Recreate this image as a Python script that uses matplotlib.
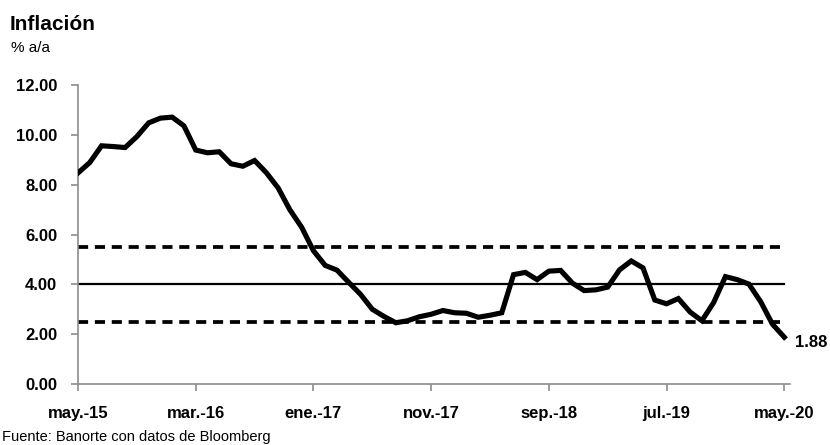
import numpy as np
import matplotlib.pyplot as plt

plt.rcParams['font.family'] = ['Liberation Sans Narrow', 'Liberation Sans', 'DejaVu Sans']

# Inflación anual (% a/a), mensual de may-15 a may-20
inflacion = [8.47, 8.89, 9.56, 9.53, 9.49, 9.93, 10.48, 10.67,
             10.71, 10.36, 9.39, 9.28, 9.32, 8.84, 8.74, 8.97, 8.48, 7.87, 6.99, 6.29,
             5.35, 4.76, 4.57, 4.08, 3.60, 3.00, 2.71, 2.46, 2.54, 2.70, 2.80, 2.95,
             2.86, 2.84, 2.68, 2.76, 2.86, 4.39, 4.48, 4.19, 4.53, 4.56, 4.05, 3.75,
             3.78, 3.89, 4.58, 4.94, 4.66, 3.37, 3.22, 3.43, 2.89, 2.54, 3.27, 4.31,
             4.19, 4.01, 3.30, 2.40, 1.88]
meta = 4.0
banda_sup = 5.5
banda_inf = 2.5
tick_labels = ['may.-15', 'mar.-16', 'ene.-17', 'nov.-17', 'sep.-18', 'jul.-19', 'may.-20']

x = np.arange(len(inflacion))

fig = plt.figure(figsize=(8.3, 4.45), dpi=100)
ax = fig.add_axes([0.094, 0.137, 0.858, 0.672])

ax.plot(x, [meta] * len(x), color='black', lw=1.6, zorder=2)
ax.plot(x, [banda_sup] * len(x), color='black', lw=2.7, ls=(0, (2.7, 1.8)), zorder=2)
ax.plot(x, [banda_inf] * len(x), color='black', lw=2.7, ls=(0, (2.7, 1.8)), zorder=2)
ax.plot(x, inflacion, color='black', lw=3.7, solid_joinstyle='miter', zorder=3)

ax.text(x[-1] + 0.9, inflacion[-1] - 0.2, '%.2f' % inflacion[-1], fontsize=12,
        fontweight='bold', va='center', ha='left')

ax.set_xlim(0, 60.5)
ax.set_ylim(0, 12)
ax.set_yticks(np.arange(0, 12.01, 2))
ax.set_yticklabels(['%.2f' % v for v in np.arange(0, 12.01, 2)])
ax.set_xticks(np.arange(0, 61, 10))
ax.set_xticklabels(tick_labels)

for s in ['top', 'right']:
    ax.spines[s].set_visible(False)
for s in ['left', 'bottom']:
    ax.spines[s].set_color('#8c8c8c')
    ax.spines[s].set_linewidth(1.2)
ax.spines['bottom'].set_bounds(0, 60.5)

ax.tick_params(axis='both', direction='out', length=5, color='#8c8c8c', width=1.2,
               labelsize=12)
ax.tick_params(axis='y', pad=10)
ax.tick_params(axis='x', pad=11)
for lab in ax.get_xticklabels() + ax.get_yticklabels():
    lab.set_fontweight('bold')

fig.text(0.012, 0.944, 'Inflación', fontsize=15, fontweight='bold', va='center')
fig.text(0.013, 0.893, '% a/a', fontsize=11, va='center')
fig.text(0.002, 0.019, 'Fuente: Banorte con datos de Bloomberg', fontsize=10.5, va='center')

fig.savefig('out.png', dpi=100)
